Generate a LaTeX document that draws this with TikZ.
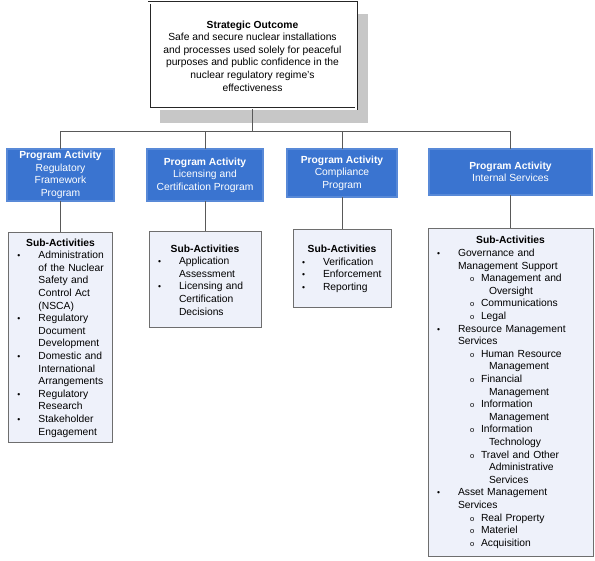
\documentclass[tikz,border=0pt]{standalone}
\usepackage{fontspec}
\setmainfont{Liberation Sans}
\setlength{\parindent}{0pt}
\definecolor{pablue}{HTML}{3A74D0}
\definecolor{panavy}{HTML}{1E3566}
\definecolor{subfill}{HTML}{EEF1FA}
\definecolor{subedge}{HTML}{6E6E6E}
\newcommand{\subhead}{\hfill\textbf{Sub-Activities}\hfill\null}
\newcommand{\subbul}[1]{\makebox[30pt][l]{\hspace*{9pt}{\fontsize{8.5}{8.5}\selectfont\textbullet}}#1}
\newcommand{\subcont}[1]{\hspace*{30pt}#1}
\newcommand{\subsub}[1]{\makebox[53pt][l]{\hspace*{42pt}{\fontsize{7.5}{7.5}\selectfont o}}#1}
\newcommand{\subsubcont}[1]{\hspace*{61pt}#1}

\begin{document}
\begin{tikzpicture}[x=1pt,y=-1pt,
      font=\fontsize{10.3}{12.6}\selectfont,
      outcome/.style={draw=black!85,line width=0.7pt,double=white,double distance=1.6pt,fill=white,
        minimum width=207pt,minimum height=106pt,align=center},
      activity/.style={draw=panavy!85!gray,line width=0.7pt,double=pablue!85!white,double distance=1.2pt,
        fill=pablue,text=white,align=center,inner sep=1pt},
      subbox/.style={draw=subedge,line width=1pt,fill=subfill,align=left,inner xsep=0pt,inner ysep=3pt},
      link/.style={draw=black!65,line width=0.9pt}]
      \useasboundingbox (0,0) rectangle (595,561);
      % strategic outcome, with its shadow
      \fill[black!22] (160,14) rectangle (368,123);
      \node[outcome] (so) at (252.5,56) {\textbf{Strategic Outcome}\\
        Safe and secure nuclear installations\\
        and processes used solely for peaceful\\
        purposes and public confidence in the\\
        nuclear regulatory regime’s\\
        effectiveness};
      % program activities
      \node[activity,minimum width=107pt,minimum height=52pt] (pa1) at (60.5,175)
        {\textbf{Program Activity}\\Regulatory\\Framework\\Program};
      \node[activity,minimum width=116pt,minimum height=52pt] (pa2) at (205,175)
        {\textbf{Program Activity}\\Licensing and\\Certification Program};
      \node[activity,minimum width=110pt,minimum height=48pt] (pa3) at (342,173)
        {\textbf{Program Activity}\\Compliance\\Program};
      \node[activity,minimum width=163pt,minimum height=46pt] (pa4) at (510.5,172)
        {\textbf{Program Activity}\\Internal Services};
      % sub-activities
      \node[subbox,text width=104pt,minimum height=210pt] (sa1) at (60.5,338) {\subhead\\
        \subbul{Administration}\\
        \subcont{of the Nuclear}\\
        \subcont{Safety and}\\
        \subcont{Control Act}\\
        \subcont{(NSCA)}\\
        \subbul{Regulatory}\\
        \subcont{Document}\\
        \subcont{Development}\\
        \subbul{Domestic and}\\
        \subcont{International}\\
        \subcont{Arrangements}\\
        \subbul{Regulatory}\\
        \subcont{Research}\\
        \subbul{Stakeholder}\\
        \subcont{Engagement}};
      \node[subbox,text width=112pt,minimum height=96pt] (sa2) at (205,280) {\subhead\\
        \subbul{Application}\\
        \subcont{Assessment}\\
        \subbul{Licensing and}\\
        \subcont{Certification}\\
        \subcont{Decisions}};
      \node[subbox,text width=98pt,minimum height=78pt] (sa3) at (342,269) {\subhead\\
        \subbul{Verification}\\
        \subbul{Enforcement}\\
        \subbul{Reporting}};
      \node[subbox,text width=165pt,minimum height=327pt] (sa4) at (510.5,392.5) {\subhead\\
        \subbul{Governance and}\\
        \subcont{Management Support}\\
        \subsub{Management and}\\
        \subsubcont{Oversight}\\
        \subsub{Communications}\\
        \subsub{Legal}\\
        \subbul{Resource Management}\\
        \subcont{Services}\\
        \subsub{Human Resource}\\
        \subsubcont{Management}\\
        \subsub{Financial}\\
        \subsubcont{Management}\\
        \subsub{Information}\\
        \subsubcont{Management}\\
        \subsub{Information}\\
        \subsubcont{Technology}\\
        \subsub{Travel and Other}\\
        \subsubcont{Administrative}\\
        \subsubcont{Services}\\
        \subbul{Asset Management}\\
        \subcont{Services}\\
        \subsub{Real Property}\\
        \subsub{Materiel}\\
        \subsub{Acquisition}};
      % connectors
      \coordinate (bus) at (252.5,131);
      \draw[link] (so.south) -- (so.south |- bus);
      \draw[link] (pa1.north) -- (pa1.north |- bus) -- (pa4.north |- bus) -- (pa4.north);
      \draw[link] (pa2.north) -- (pa2.north |- bus);
      \draw[link] (pa3.north) -- (pa3.north |- bus);
      \foreach \i in {1,2,3,4}
        \draw[link] (pa\i.south) -- (pa\i.south |- sa\i.north);
    \end{tikzpicture}
\end{document}
